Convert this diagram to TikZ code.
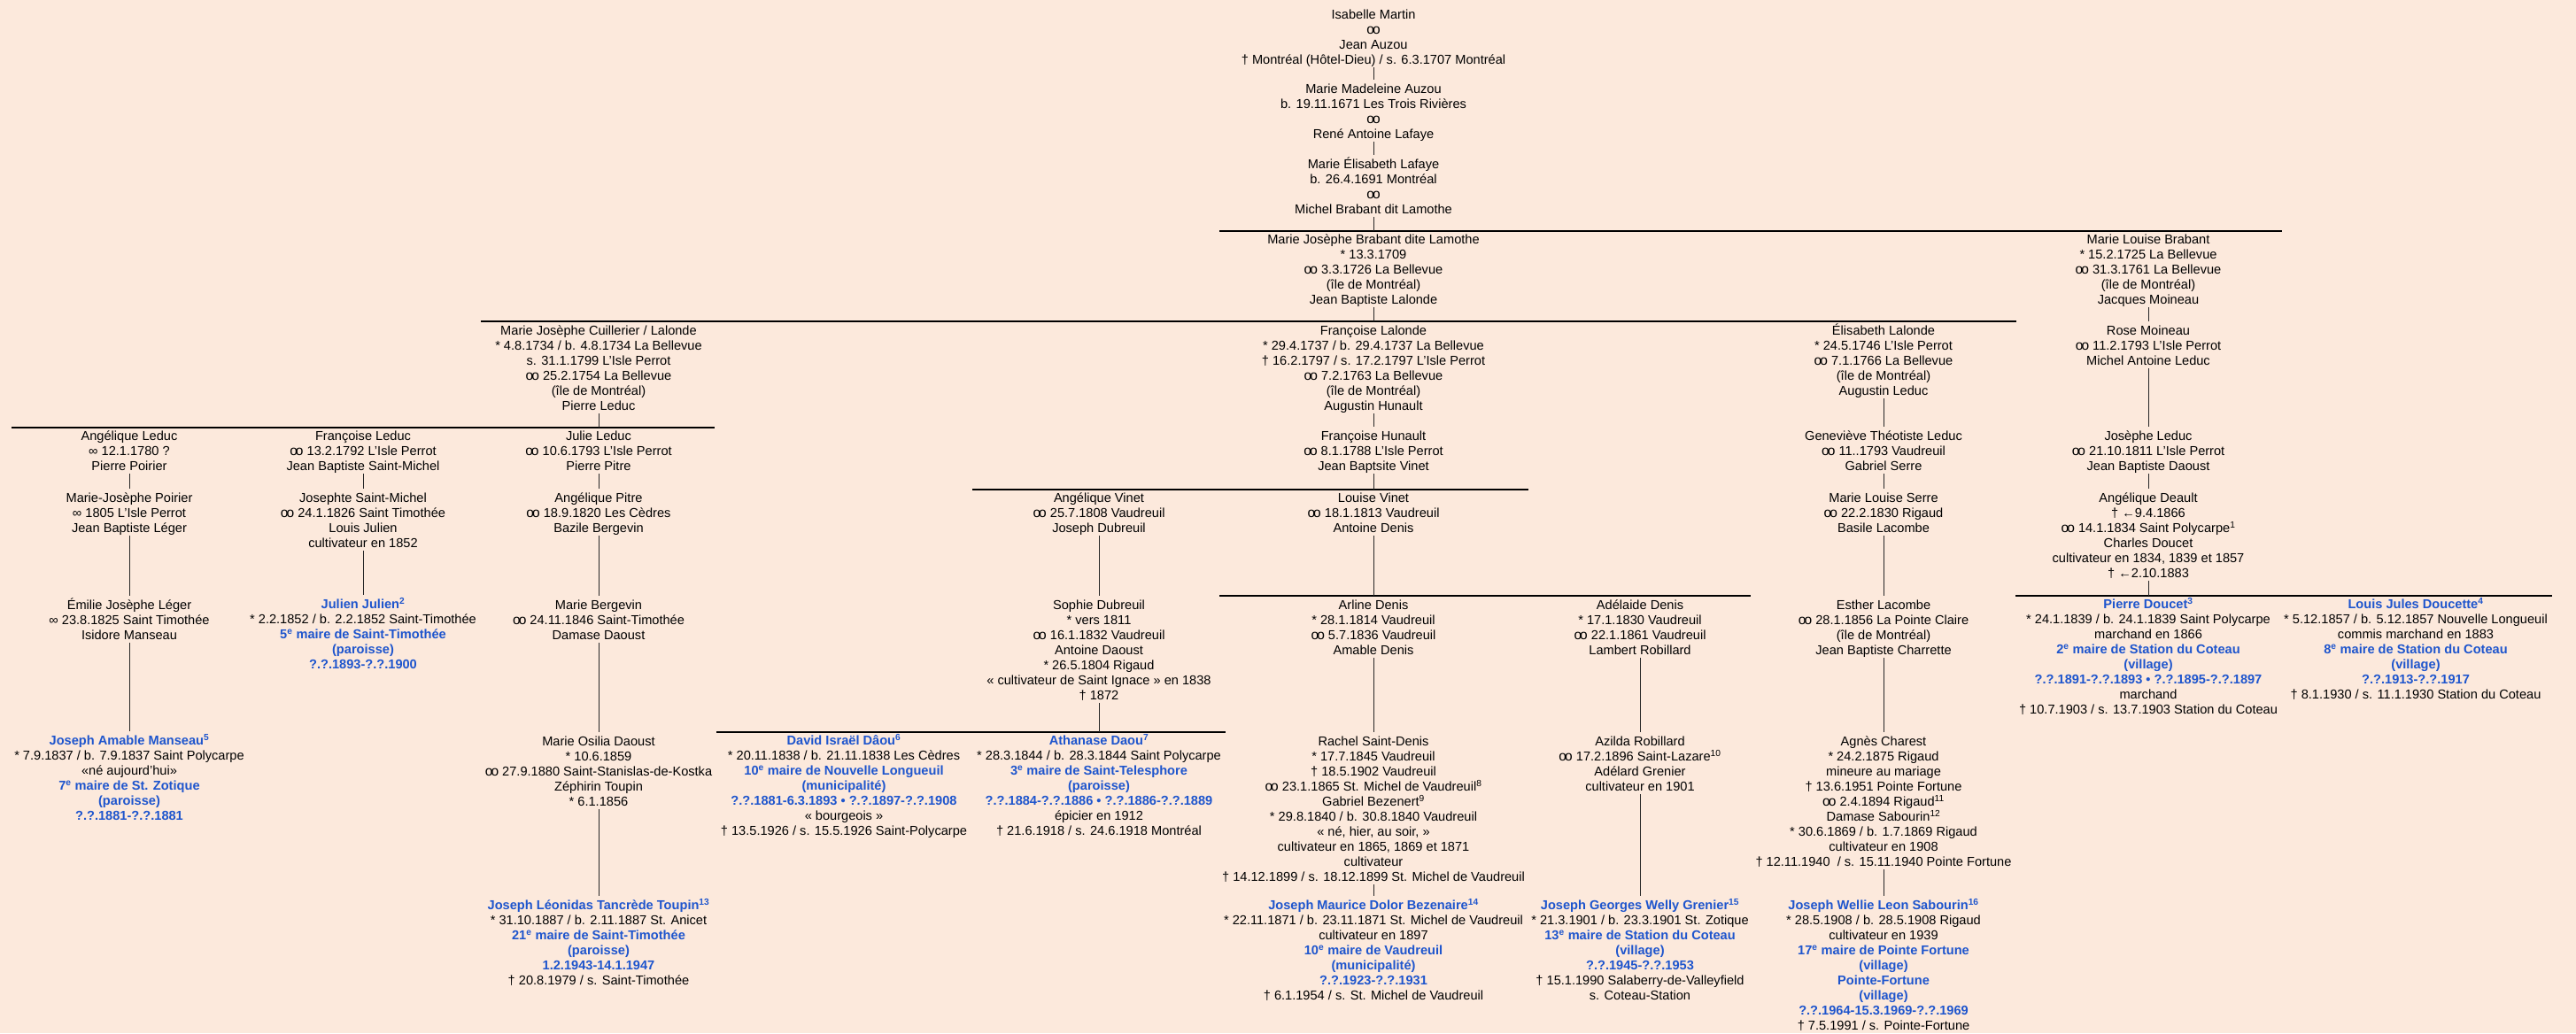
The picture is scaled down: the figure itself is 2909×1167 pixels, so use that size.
\documentclass[tikz,border=0pt]{standalone}
\usepackage{fontspec}
\setmainfont{Liberation Sans}
\definecolor{bgpeach}{RGB}{252,233,220}
\definecolor{nameblue}{RGB}{30,85,205}
\newcommand\TS{\rule{0pt}{15.2pt}}
\newcommand\BS{\rule[-3.8pt]{0pt}{3.8pt}}
\newcommand\mar{{\fontsize{15.5}{17}\selectfont o\kern-1.9pt o}}
\newcommand\smar{∞}
\newcommand\bl[1]{{\bfseries\color{nameblue}#1}}
\newcommand\sx[1]{\textsuperscript{#1}}
\tikzset{
  person/.style={anchor=north, align=center, inner sep=0pt, font=\fontsize{14.6}{17}\selectfont},
  conn/.style={draw=black!85, line width=1pt},
  genbar/.style={draw=black, line width=2.2pt}
}
\begin{document}
\begin{tikzpicture}[x=1pt,y=-1pt]
\fill[bgpeach] (0,0) rectangle (2909,1167);
\useasboundingbox (0,0) rectangle (2909,1167);

% ---------- ancestors ----------
\node[person] (n1) at (1551,6) {\TS Isabelle Martin\\ \mar\\ Jean Auzou\\ † Montréal (Hôtel-Dieu) / s. 6.3.1707 Montréal\BS};
\node[person] (n2) at (1551,90) {\TS Marie Madeleine Auzou\\ b. 19.11.1671 Les Trois Rivières\\ \mar\\ René Antoine Lafaye\BS};
\node[person] (n3) at (1551,175) {\TS Marie Élisabeth Lafaye\\ b. 26.4.1691 Montréal\\ \mar\\ Michel Brabant dit Lamothe\BS};

\node[person] (n4) at (1551,260) {\TS Marie Josèphe Brabant dite Lamothe\\ * 13.3.1709\\ \mar{} 3.3.1726 La Bellevue\\ (île de Montréal)\\ Jean Baptiste Lalonde\BS};
\node[person] (n5) at (2426,260) {\TS Marie Louise Brabant\\ * 15.2.1725 La Bellevue\\ \mar{} 31.3.1761 La Bellevue\\ (île de Montréal)\\ Jacques Moineau\BS};
\node[person] (n6) at (2426,363) {\TS Rose Moineau\\ \mar{} 11.2.1793 L’Isle Perrot\\ Michel Antoine Leduc\BS};
\node[person] (n7) at (2426,482) {\TS Josèphe Leduc\\ \mar{} 21.10.1811 L’Isle Perrot\\ Jean Baptiste Daoust\BS};
\node[person] (n8) at (2426,552) {\TS Angélique Deault\\ † ←9.4.1866\\ \mar{} 14.1.1834 Saint Polycarpe\sx{1}\\ Charles Doucet\\ cultivateur en 1834, 1839 et 1857\\ † ←2.10.1883\BS};
\node[person] (n9) at (2426,672) {\TS \bl{Pierre Doucet\sx{3}}\\ * 24.1.1839 / b. 24.1.1839 Saint Polycarpe\\ marchand en 1866\\ \bl{2\sx{e} maire de Station du Coteau}\\ \bl{(village)}\\ \bl{?.?.1891-?.?.1893 • ?.?.1895-?.?.1897}\\ marchand\\ † 10.7.1903 / s. 13.7.1903 Station du Coteau\BS};
\node[person] (n10) at (2728,672) {\TS \bl{Louis Jules Doucette\sx{4}}\\ * 5.12.1857 / b. 5.12.1857 Nouvelle Longueuil\\ commis marchand en 1883\\ \bl{8\sx{e} maire de Station du Coteau}\\ \bl{(village)}\\ \bl{?.?.1913-?.?.1917}\\ † 8.1.1930 / s. 11.1.1930 Station du Coteau\BS};

% ---------- generation of Marie Josèphe Brabant ----------
\node[person] (n11) at (676,363) {\TS Marie Josèphe Cuillerier / Lalonde\\ * 4.8.1734 / b. 4.8.1734 La Bellevue\\ s. 31.1.1799 L’Isle Perrot\\ \mar{} 25.2.1754 La Bellevue\\ (île de Montréal)\\ Pierre Leduc\BS};
\node[person] (n12) at (1551,363) {\TS Françoise Lalonde\\ * 29.4.1737 / b. 29.4.1737 La Bellevue\\ † 16.2.1797 / s. 17.2.1797 L’Isle Perrot\\ \mar{} 7.2.1763 La Bellevue\\ (île de Montréal)\\ Augustin Hunault\BS};
\node[person] (n13) at (1551,482) {\TS Françoise Hunault\\ \mar{} 8.1.1788 L’Isle Perrot\\ Jean Baptsite Vinet\BS};
\node[person] (n14) at (2127,363) {\TS Élisabeth Lalonde\\ * 24.5.1746 L’Isle Perrot\\ \mar{} 7.1.1766 La Bellevue\\ (île de Montréal)\\ Augustin Leduc\BS};
\node[person] (n15) at (2127,482) {\TS Geneviève Théotiste Leduc\\ \mar{} 11..1793 Vaudreuil\\ Gabriel Serre\BS};
\node[person] (n16) at (2127,552) {\TS Marie Louise Serre\\ \mar{} 22.2.1830 Rigaud\\ Basile Lacombe\BS};
\node[person] (n17) at (2127,673) {\TS Esther Lacombe\\ \mar{} 28.1.1856 La Pointe Claire\\ (île de Montréal)\\ Jean Baptiste Charrette\BS};
\node[person] (n18) at (2127,827) {\TS Agnès Charest\\ * 24.2.1875 Rigaud\\ mineure au mariage\\ † 13.6.1951 Pointe Fortune\\ \mar{} 2.4.1894 Rigaud\sx{11}\\ Damase Sabourin\sx{12}\\ * 30.6.1869 / b. 1.7.1869 Rigaud\\ cultivateur en 1908\\ † 12.11.1940 \ / s. 15.11.1940 Pointe Fortune\BS};
\node[person] (n19) at (2127,1012) {\TS \bl{Joseph Wellie Leon Sabourin\sx{16}}\\ * 28.5.1908 / b. 28.5.1908 Rigaud\\ cultivateur en 1939\\ \bl{17\sx{e} maire de Pointe Fortune}\\ \bl{(village)}\\ \bl{Pointe-Fortune}\\ \bl{(village)}\\ \bl{?.?.1964-15.3.1969-?.?.1969}\\ † 7.5.1991 / s. Pointe-Fortune\BS};

% ---------- Leduc branch ----------
\node[person] (n20) at (146,482) {\TS Angélique Leduc\\ \smar{} 12.1.1780 ?\\ Pierre Poirier\BS};
\node[person] (n21) at (146,552) {\TS Marie-Josèphe Poirier\\ \smar{} 1805 L’Isle Perrot\\ Jean Baptiste Léger\BS};
\node[person] (n22) at (146,673) {\TS Émilie Josèphe Léger\\ \smar{} 23.8.1825 Saint Timothée\\ Isidore Manseau\BS};
\node[person] (n23) at (146,826) {\TS \bl{Joseph Amable Manseau\sx{5}}\\ * 7.9.1837 / b. 7.9.1837 Saint Polycarpe\\ «né aujourd’hui»\\ \bl{7\sx{e} maire de St. Zotique}\\ \bl{(paroisse)}\\ \bl{?.?.1881-?.?.1881}\BS};
\node[person] (n24) at (410,482) {\TS Françoise Leduc\\ \mar{} 13.2.1792 L’Isle Perrot\\ Jean Baptiste Saint-Michel\BS};
\node[person] (n25) at (410,552) {\TS Josephte Saint-Michel\\ \mar{} 24.1.1826 Saint Timothée\\ Louis Julien\\ cultivateur en 1852\BS};
\node[person] (n26) at (410,672) {\TS \bl{Julien Julien\sx{2}}\\ * 2.2.1852 / b. 2.2.1852 Saint-Timothée\\ \bl{5\sx{e} maire de Saint-Timothée}\\ \bl{(paroisse)}\\ \bl{?.?.1893-?.?.1900}\BS};
\node[person] (n27) at (676,482) {\TS Julie Leduc\\ \mar{} 10.6.1793 L’Isle Perrot\\ Pierre Pitre\BS};
\node[person] (n28) at (676,552) {\TS Angélique Pitre\\ \mar{} 18.9.1820 Les Cèdres\\ Bazile Bergevin\BS};
\node[person] (n29) at (676,673) {\TS Marie Bergevin\\ \mar{} 24.11.1846 Saint-Timothée\\ Damase Daoust\BS};
\node[person] (n30) at (676,827) {\TS Marie Osilia Daoust\\ * 10.6.1859\\ \mar{} 27.9.1880 Saint-Stanislas-de-Kostka\\ Zéphirin Toupin\\ * 6.1.1856\BS};
\node[person] (n31) at (676,1012) {\TS \bl{Joseph Léonidas Tancrède Toupin\sx{13}}\\ * 31.10.1887 / b. 2.11.1887 St. Anicet\\ \bl{21\sx{e} maire de Saint-Timothée}\\ \bl{(paroisse)}\\ \bl{1.2.1943-14.1.1947}\\ † 20.8.1979 / s. Saint-Timothée\BS};

% ---------- Vinet branch ----------
\node[person] (n32) at (1241,552) {\TS Angélique Vinet\\ \mar{} 25.7.1808 Vaudreuil\\ Joseph Dubreuil\BS};
\node[person] (n33) at (1241,673) {\TS Sophie Dubreuil\\ * vers 1811\\ \mar{} 16.1.1832 Vaudreuil\\ Antoine Daoust\\ * 26.5.1804 Rigaud\\ « cultivateur de Saint Ignace » en 1838\\ † 1872\BS};
\node[person] (n34) at (953,826) {\TS \bl{David Israël Dâou\sx{6}}\\ * 20.11.1838 / b. 21.11.1838 Les Cèdres\\ \bl{10\sx{e} maire de Nouvelle Longueuil}\\ \bl{(municipalité)}\\ \bl{?.?.1881-6.3.1893 • ?.?.1897-?.?.1908}\\ « bourgeois »\\ † 13.5.1926 / s. 15.5.1926 Saint-Polycarpe\BS};
\node[person] (n35) at (1241,826) {\TS \bl{Athanase Daou\sx{7}}\\ * 28.3.1844 / b. 28.3.1844 Saint Polycarpe\\ \bl{3\sx{e} maire de Saint-Telesphore}\\ \bl{(paroisse)}\\ \bl{?.?.1884-?.?.1886 • ?.?.1886-?.?.1889}\\ épicier en 1912\\ † 21.6.1918 / s. 24.6.1918 Montréal\BS};
\node[person] (n36) at (1551,552) {\TS Louise Vinet\\ \mar{} 18.1.1813 Vaudreuil\\ Antoine Denis\BS};
\node[person] (n37) at (1551,673) {\TS Arline Denis\\ * 28.1.1814 Vaudreuil\\ \mar{} 5.7.1836 Vaudreuil\\ Amable Denis\BS};
\node[person] (n38) at (1551,827) {\TS Rachel Saint-Denis\\ * 17.7.1845 Vaudreuil\\ † 18.5.1902 Vaudreuil\\ \mar{} 23.1.1865 St. Michel de Vaudreuil\sx{8}\\ Gabriel Bezenert\sx{9}\\ * 29.8.1840 / b. 30.8.1840 Vaudreuil\\ « né, hier, au soir, »\\ cultivateur en 1865, 1869 et 1871\\ cultivateur\\ † 14.12.1899 / s. 18.12.1899 St. Michel de Vaudreuil\BS};
\node[person] (n39) at (1551,1012) {\TS \bl{Joseph Maurice Dolor Bezenaire\sx{14}}\\ * 22.11.1871 / b. 23.11.1871 St. Michel de Vaudreuil\\ cultivateur en 1897\\ \bl{10\sx{e} maire de Vaudreuil}\\ \bl{(municipalité)}\\ \bl{?.?.1923-?.?.1931}\\ † 6.1.1954 / s. St. Michel de Vaudreuil\BS};
\node[person] (n40) at (1852,673) {\TS Adélaide Denis\\ * 17.1.1830 Vaudreuil\\ \mar{} 22.1.1861 Vaudreuil\\ Lambert Robillard\BS};
\node[person] (n41) at (1852,827) {\TS Azilda Robillard\\ \mar{} 17.2.1896 Saint-Lazare\sx{10}\\ Adélard Grenier\\ cultivateur en 1901\BS};
\node[person] (n42) at (1852,1012) {\TS \bl{Joseph Georges Welly Grenier\sx{15}}\\ * 21.3.1901 / b. 23.3.1901 St. Zotique\\ \bl{13\sx{e} maire de Station du Coteau}\\ \bl{(village)}\\ \bl{?.?.1945-?.?.1953}\\ † 15.1.1990 Salaberry-de-Valleyfield\\ s. Coteau-Station\BS};

% ---------- sibling bars ----------
\coordinate (b1w) at (1377,261); \coordinate (b1e) at (2577,261);
\coordinate (b2w) at (543,363);  \coordinate (b2e) at (2277,363);
\coordinate (b3w) at (13,483);   \coordinate (b3e) at (807,483);
\coordinate (b4w) at (1098,553); \coordinate (b4e) at (1726,553);
\coordinate (b5w) at (1377,673); \coordinate (b5e) at (1977,673);
\coordinate (b6w) at (809,827);  \coordinate (b6e) at (1384,827);
\coordinate (b7w) at (2276,673); \coordinate (b7e) at (2882,673);
\foreach \b in {1,...,7}{\draw[genbar] (b\b w) -- (b\b e);}

% ---------- connectors ----------
\draw[conn] (n1.south) -- (n2.north);
\draw[conn] (n2.south) -- (n3.north);
\draw[conn] (n3.south) -- (n3.south |- b1w);
\draw[conn] (n4.south) -- (n4.south |- b2w);
\draw[conn] (n5.south) -- (n6.north);
\draw[conn] (n6.south) -- (n7.north);
\draw[conn] (n7.south) -- (n8.north);
\draw[conn] (n8.south) -- (n8.south |- b7w);
\draw[conn] (n11.south) -- (n11.south |- b3w);
\draw[conn] (n12.south) -- (n13.north);
\draw[conn] (n13.south) -- (n13.south |- b4w);
\draw[conn] (n14.south) -- (n15.north);
\draw[conn] (n15.south) -- (n16.north);
\draw[conn] (n16.south) -- (n17.north);
\draw[conn] (n17.south) -- (n18.north);
\draw[conn] (n18.south) -- (n19.north);
\draw[conn] (n20.south) -- (n21.north);
\draw[conn] (n21.south) -- (n22.north);
\draw[conn] (n22.south) -- (n23.north);
\draw[conn] (n24.south) -- (n25.north);
\draw[conn] (n25.south) -- (n26.north);
\draw[conn] (n27.south) -- (n28.north);
\draw[conn] (n28.south) -- (n29.north);
\draw[conn] (n29.south) -- (n30.north);
\draw[conn] (n30.south) -- (n31.north);
\draw[conn] (n32.south) -- (n33.north);
\draw[conn] (n33.south) -- (n33.south |- b6w);
\draw[conn] (n36.south) -- (n36.south |- b5w);
\draw[conn] (n37.south) -- (n38.north);
\draw[conn] (n38.south) -- (n39.north);
\draw[conn] (n40.south) -- (n41.north);
\draw[conn] (n41.south) -- (n42.north);
\end{tikzpicture}
\end{document}
